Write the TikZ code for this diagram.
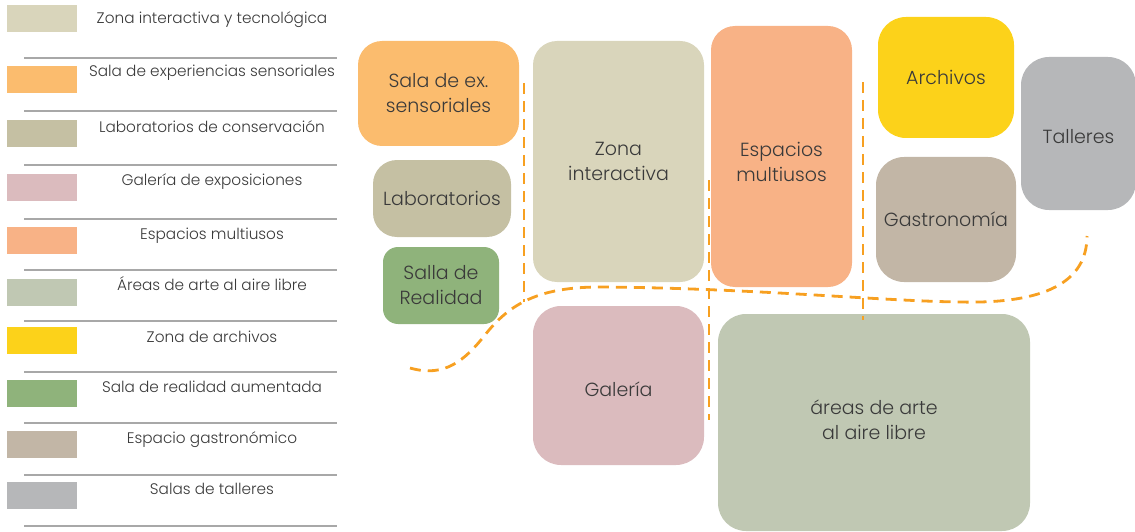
\documentclass[tikz,border=0pt]{standalone}
\usepackage{fontspec}
\setmainfont{Poppins}[UprightFont=* Light]
\definecolor{cZona}{HTML}{D9D5BB}
\definecolor{cSens}{HTML}{FBBC6E}
\definecolor{cLab}{HTML}{C5C0A3}
\definecolor{cGal}{HTML}{DBBBBE}
\definecolor{cEsp}{HTML}{F8B286}
\definecolor{cAire}{HTML}{C0C8B3}
\definecolor{cArch}{HTML}{FCD21A}
\definecolor{cReal}{HTML}{8FB37B}
\definecolor{cGast}{HTML}{C2B6A6}
\definecolor{cTall}{HTML}{B6B7B9}
\definecolor{txt}{HTML}{3A3A3A}
\definecolor{lineg}{HTML}{A8A8A8}
\definecolor{dashc}{HTML}{F7A021}
\newcommand{\lowr}[2]{\raisebox{#1}[\height][\depth]{#2}}
\begin{document}
\begin{tikzpicture}[x=1pt,y=-1pt,
  box/.style={rounded corners=24pt, inner sep=0pt, align=center, text=txt,
    font=\fontsize{19}{25}\selectfont},
  sw/.style={inner sep=0pt, minimum width=70pt, minimum height=27pt},
  leg/.style={text=txt, font=\fontsize{15.3}{19}\selectfont, anchor=base},
  rule/.style={draw=lineg, line width=1.3pt},
  walk/.style={draw=dashc, line width=2.8pt, dash pattern=on 11pt off 7pt}
]
\useasboundingbox (0,0) rectangle (1135,532);

% ---------- legend ----------
\node[sw, fill=cZona] (sw1) at (42,18.5) {};
\node[sw, fill=cSens] (sw2) at (42,79.5) {};
\node[sw, fill=cLab]  (sw3) at (42,133.5) {};
\node[sw, fill=cGal]  (sw4) at (42,187.5) {};
\node[sw, fill=cEsp]  (sw5) at (42,240) {};
\node[sw, fill=cAire] (sw6) at (42,292.5) {};
\node[sw, fill=cArch] (sw7) at (42,340) {};
\node[sw, fill=cReal] (sw8) at (42,393.5) {};
\node[sw, fill=cGast] (sw9) at (42,444.5) {};
\node[sw, fill=cTall] (sw10) at (42,495.5) {};

\node[leg] (l1) at (212,24) {Zona interactiva y tecnológica};
\node[leg] (l2) at (212,77) {Sala de experiencias sensoriales};
\node[leg] (l3) at (212,132) {Laboratorios de conservación};
\node[leg] (l4) at (212,185) {Galería de exposiciones};
\node[leg] (l5) at (212,239) {Espacios multiusos};
\node[leg] (l6) at (212,290) {Áreas de arte al aire libre};
\node[leg] (l7) at (212,342) {Zona de archivos};
\node[leg] (l8) at (212,392) {Sala de realidad aumentada};
\node[leg] (l9) at (212,443) {Espacio gastronómico};
\node[leg] (l10) at (212,494) {Salas de talleres};

\foreach \yy in {58,111,165,219,270,321,372,423,475,526}
  \draw[rule] (24,\yy) -- (337,\yy);

% ---------- plan ----------
\node[box, fill=cSens, minimum width=161pt, minimum height=105pt] (sens) at (438.5,93.5) {Sala de ex.\\sensoriales};
\node[box, fill=cLab, minimum width=138pt, minimum height=77pt] (lab) at (442,198.5) {Laboratorios};
\node[box, fill=cReal, rounded corners=15pt, minimum width=116pt, minimum height=77pt] (real) at (441,285.5) {Salla de\\Realidad};
\node[box, fill=cZona, minimum width=171pt, minimum height=241pt] (zona) at (618.5,161.5) {Zona\\interactiva};
\node[box, fill=cEsp, minimum width=141pt, minimum height=261pt] (esp) at (781.5,156.5) {\lowr{-5pt}{Espacios}\\\lowr{-5pt}{multiusos}};
\node[box, fill=cArch, rounded corners=28pt, minimum width=136pt, minimum height=121pt] (arch) at (946,77.5) {Archivos};
\node[box, fill=cGast, rounded corners=28pt, minimum width=140pt, minimum height=125pt] (gast) at (946,219.5) {Gastronomía};
\node[box, fill=cTall, rounded corners=28pt, minimum width=115pt, minimum height=153pt] (tall) at (1078.5,133.5) {\lowr{-3pt}{Talleres}};
\node[box, fill=cGal, rounded corners=28pt, minimum width=171pt, minimum height=159pt] (gal) at (618.5,385.5) {\lowr{-4pt}{Galería}};
\node[box, fill=cAire, rounded corners=28pt, minimum width=312pt, minimum height=217pt] (aire) at (874,422.5) {\lowr{3pt}{áreas de arte}\\\lowr{3pt}{al aire libre}};

% ---------- dashed routes ----------
\draw[walk] (524,83) -- (524,302);
\draw[walk] (709,180) -- (709,420);
\draw[walk] (863,82) -- (863,320);
\draw[walk] (410,368) .. controls (445,378) and (465,360) .. (485,335)
  .. controls (510,303) and (540,287) .. (600,287)
  .. controls (750,288) and (880,301) .. (960,302)
  .. controls (1045,304) and (1087,282) .. (1087,236);
\end{tikzpicture}
\end{document}
